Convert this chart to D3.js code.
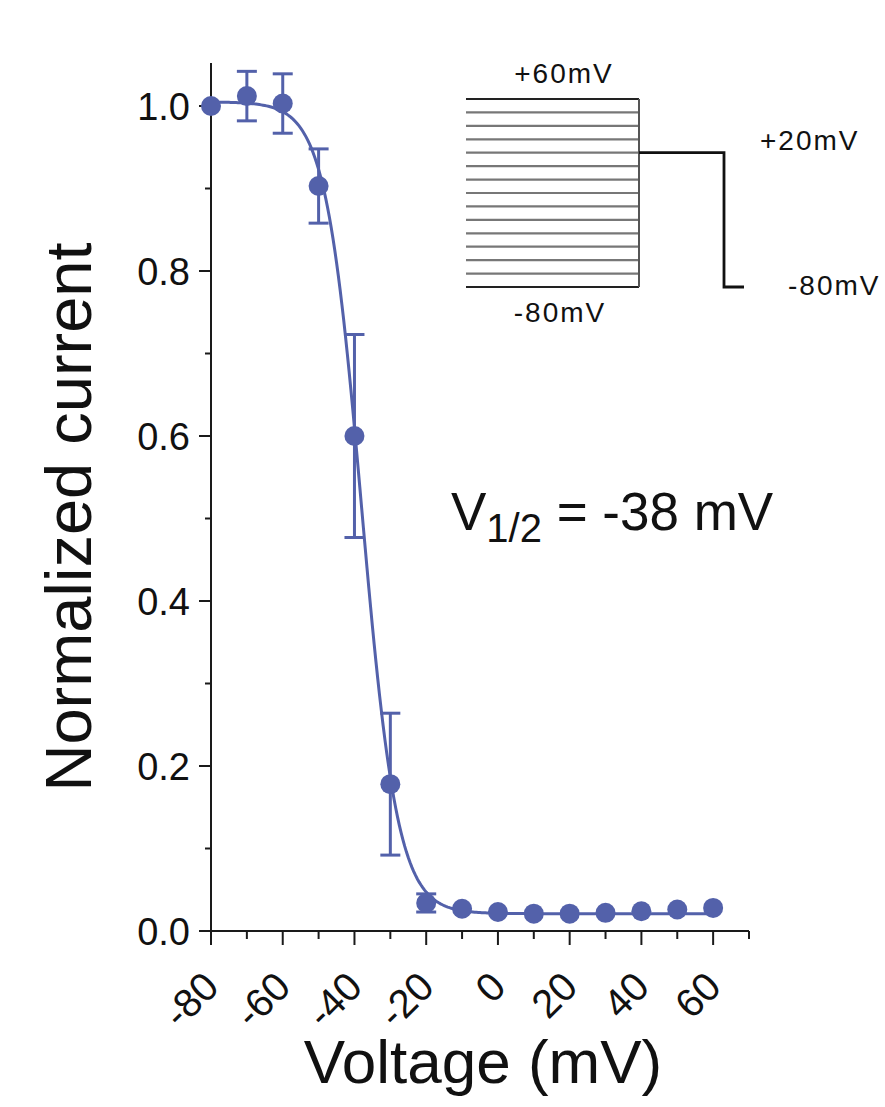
<!DOCTYPE html>
<html>
<head>
<meta charset="utf-8">
<script src="https://cdn.jsdelivr.net/npm/d3@7"></script>
<style>
  html, body { margin: 0; padding: 0; background: #fff; }
  svg { display: block; }
  text { font-family: "Liberation Sans", Arial, sans-serif; fill: #111; }
</style>
</head>
<body>
<svg id="chart" width="885" height="1107"></svg>
<script>
// Steady-state inactivation: normalized current vs. prepulse voltage
const voltages = [-80, -70, -60, -50, -40, -30, -20, -10, 0, 10, 20, 30, 40, 50, 60];
const currents = [1.000, 1.012, 1.003, 0.903, 0.600, 0.178, 0.034, 0.027, 0.023, 0.021, 0.021, 0.022, 0.024, 0.026, 0.028];
const errors   = [0, 0.030, 0.036, 0.045, 0.123, 0.086, 0.011, 0, 0, 0, 0, 0, 0, 0, 0];

const xTickValues = [-80, -60, -40, -20, 0, 20, 40, 60];
const xMinorValues = [-70, -50, -30, -10, 10, 30, 50, 70];
const yTickValues = [0.0, 0.2, 0.4, 0.6, 0.8, 1.0];
const yMinorValues = [0.1, 0.3, 0.5, 0.7, 0.9];

// Boltzmann fit parameters
const fitVHalf = -38;
const fitSlope = 5;
const fitTop = 1.005;
const fitBottom = 0.021;

// Voltage protocol for the inset
const prepulseLevels = [60, 50, 40, 30, 20, 10, 0, -10, -20, -30, -40, -50, -60, -70, -80];
const testLevel = 20;
const holdLevel = -80;

const blue = "#5361aa";
const ink = "#1a1a1a";

const svg = d3.select("#chart");

const x = d3.scaleLinear().domain([-80, 70]).range([211, 749]);
const y = d3.scaleLinear().domain([0, 1]).range([931, 106]);
const yTop = 1.052;

// ---- axes ----
const xAxisG = svg.append("g").attr("transform", `translate(0,${y(0)})`);
xAxisG.append("line")
  .attr("x1", x(-80)).attr("x2", x(70))
  .attr("stroke", ink).attr("stroke-width", 2);
xAxisG.selectAll("line.major").data(xTickValues).join("line")
  .attr("class", "major")
  .attr("x1", d => x(d)).attr("x2", d => x(d))
  .attr("y1", 0).attr("y2", 14)
  .attr("stroke", ink).attr("stroke-width", 2);
xAxisG.selectAll("line.minor").data(xMinorValues).join("line")
  .attr("class", "minor")
  .attr("x1", d => x(d)).attr("x2", d => x(d))
  .attr("y1", 0).attr("y2", 8)
  .attr("stroke", ink).attr("stroke-width", 2);

svg.append("g").selectAll("text").data(xTickValues).join("text")
  .attr("transform", d => `translate(${x(d) + 10},${y(0) + 58}) rotate(-45)`)
  .attr("text-anchor", "end")
  .attr("font-size", 40)
  .text(d => d);

const yAxisG = svg.append("g").attr("transform", `translate(${x(-80)},0)`);
yAxisG.append("line")
  .attr("y1", y(0)).attr("y2", y(yTop))
  .attr("stroke", ink).attr("stroke-width", 2);
yAxisG.selectAll("line.major").data(yTickValues).join("line")
  .attr("class", "major")
  .attr("y1", d => y(d)).attr("y2", d => y(d))
  .attr("x1", 0).attr("x2", -12)
  .attr("stroke", ink).attr("stroke-width", 2);
yAxisG.selectAll("line.minor").data(yMinorValues).join("line")
  .attr("class", "minor")
  .attr("y1", d => y(d)).attr("y2", d => y(d))
  .attr("x1", 0).attr("x2", -6)
  .attr("stroke", ink).attr("stroke-width", 2);
yAxisG.selectAll("text").data(yTickValues).join("text")
  .attr("x", -21).attr("y", d => y(d))
  .attr("dy", "0.36em")
  .attr("text-anchor", "end")
  .attr("font-size", 38)
  .text(d => d3.format(".1f")(d));

// axis titles
svg.append("text")
  .attr("x", 483).attr("y", 1083)
  .attr("text-anchor", "middle")
  .attr("font-size", 62)
  .text("Voltage (mV)");

svg.append("text")
  .attr("transform", `translate(91,517) rotate(-90)`)
  .attr("text-anchor", "middle")
  .attr("font-size", 65)
  .text("Normalized current");

// ---- Boltzmann fit curve ----
const boltzmann = v => fitBottom + (fitTop - fitBottom) / (1 + Math.exp((v - fitVHalf) / fitSlope));
const fitV = d3.range(-80, 60.001, 0.5);
svg.append("path")
  .datum(fitV)
  .attr("fill", "none")
  .attr("stroke", blue)
  .attr("stroke-width", 3)
  .attr("d", d3.line().x(v => x(v)).y(v => y(boltzmann(v))));

// ---- error bars ----
const data = voltages.map((v, i) => ({ v, c: currents[i], e: errors[i] }));
const eb = svg.append("g").attr("stroke", blue).attr("stroke-width", 3)
  .selectAll("g").data(data.filter(d => d.e > 0)).join("g");
eb.append("line")
  .attr("x1", d => x(d.v)).attr("x2", d => x(d.v))
  .attr("y1", d => y(d.c - d.e)).attr("y2", d => y(d.c + d.e));
eb.append("line")
  .attr("x1", d => x(d.v) - 10).attr("x2", d => x(d.v) + 10)
  .attr("y1", d => y(d.c + d.e)).attr("y2", d => y(d.c + d.e));
eb.append("line")
  .attr("x1", d => x(d.v) - 10).attr("x2", d => x(d.v) + 10)
  .attr("y1", d => y(d.c - d.e)).attr("y2", d => y(d.c - d.e));

// ---- data points ----
svg.append("g").selectAll("circle").data(data).join("circle")
  .attr("cx", d => x(d.v)).attr("cy", d => y(d.c))
  .attr("r", 10)
  .attr("fill", blue);

// ---- half-inactivation label ----
const vh = svg.append("text").attr("x", 451).attr("y", 530).attr("font-size", 53);
vh.append("tspan").text("V");
vh.append("tspan").attr("font-size", 40).attr("dy", 12).text("1/2");
vh.append("tspan").attr("dy", -12).text(` = ${fitVHalf} mV`);

// ---- inset: voltage protocol ----
const inset = svg.append("g");
const iy = d3.scaleLinear().domain([holdLevel, 60]).range([287, 99]);
const pulseStart = 466, pulseEnd = 639, testEnd = 724, tailEnd = 744;

inset.selectAll("line.pre").data(prepulseLevels).join("line")
  .attr("class", "pre")
  .attr("x1", pulseStart).attr("x2", pulseEnd)
  .attr("y1", d => iy(d)).attr("y2", d => iy(d))
  .attr("stroke", (d, i) => (i === 0 || i === prepulseLevels.length - 1) ? "#222" : "#777")
  .attr("stroke-width", 2.2);
inset.append("line")
  .attr("x1", pulseEnd).attr("x2", pulseEnd)
  .attr("y1", iy(60)).attr("y2", iy(holdLevel))
  .attr("stroke", "#555").attr("stroke-width", 2);
inset.append("path")
  .attr("fill", "none").attr("stroke", "#111").attr("stroke-width", 2.8)
  .attr("d", d3.line()([
    [pulseEnd, iy(testLevel)], [testEnd, iy(testLevel)],
    [testEnd, iy(holdLevel)], [tailEnd, iy(holdLevel)]
  ]));

const insetLabels = [
  { t: "+60mV", x: 564, y: 83, a: "middle" },
  { t: "-80mV", x: 560, y: 322, a: "middle" },
  { t: "+20mV", x: 760, y: 150, a: "start" },
  { t: "-80mV", x: 788, y: 295, a: "start" }
];
inset.selectAll("text").data(insetLabels).join("text")
  .attr("x", d => d.x).attr("y", d => d.y)
  .attr("text-anchor", d => d.a)
  .attr("font-size", 28)
  .attr("letter-spacing", 2)
  .attr("fill", "#222")
  .text(d => d.t);
</script>
</body>
</html>
